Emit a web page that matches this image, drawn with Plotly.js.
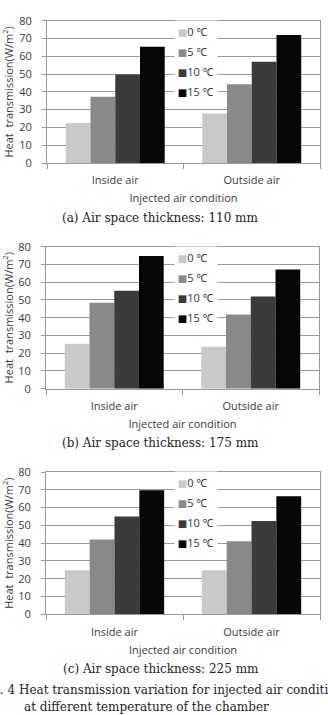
<!DOCTYPE html>
<html><head><meta charset="utf-8">
<script src="https://cdn.plot.ly/plotly-3.0.1.min.js"></script>
<style>html,body{margin:0;padding:0;background:#fff;overflow:hidden}</style>
</head><body>
<div id="chart" style="width:328px;height:715px"></div>
<script>
// ---------------- data ----------------
const categories = ['Inside air', 'Outside air'];
const seriesNames = ['0 ℃', '5 ℃', '10 ℃', '15 ℃'];
const seriesColors = ['#c9c9c9', '#898989', '#3b3b3b', '#060606'];

// (a) Air space thickness 110 mm
const a_0C  = [22.5, 27.8];
const a_5C  = [37.2, 44.3];
const a_10C = [49.8, 56.9];
const a_15C = [65.4, 71.9];
// (b) Air space thickness 175 mm
const b_0C  = [25.3, 23.6];
const b_5C  = [48.4, 41.8];
const b_10C = [55.2, 52.0];
const b_15C = [74.7, 67.2];
// (c) Air space thickness 225 mm
const c_0C  = [24.8, 24.8];
const c_5C  = [42.0, 41.0];
const c_10C = [55.0, 52.5];
const c_15C = [69.8, 66.4];

const panelCaptions = ['(a) Air space thickness: 110 mm', '(b) Air space thickness: 175 mm', '(c) Air space thickness: 225 mm'];
const yTitleText = 'Heat  transmission(W/m<sup>2</sup>)';
const xTitleText = 'Injected air condition';
const yTickVals = [0, 10, 20, 30, 40, 50, 60, 70, 80];
const figCaption1 = 'Fig. 4 Heat transmission variation for injected air conditions';
const figCaption2 = 'at different temperature of the chamber';

const panelData = [
  [a_0C, a_5C, a_10C, a_15C],
  [b_0C, b_5C, b_10C, b_15C],
  [c_0C, c_5C, c_10C, c_15C]
];

// ---------------- geometry (pixels) ----------------
const W = 328, H = 715;
const panels = [
  {left: 47, right: 320, top: 20.7, bottom: 163},
  {left: 46, right: 319, top: 246.7, bottom: 388.7},
  {left: 46, right: 320, top: 472, bottom: 614.3}
];
const captionY = [218, 443, 669];
const px = x => x / W;
const py = y => 1 - y / H;

const uiFont = {family: '"Open Sans", "Noto Sans", sans-serif', size: 11, color: '#3a3a3a'};
const serifFont = {family: '"DejaVu Serif", "Liberation Serif", serif', size: 12, color: '#222'};

const traces = [];
const layout = {
  width: W, height: H,
  margin: {l: 0, r: 0, t: 0, b: 0},
  paper_bgcolor: '#fff', plot_bgcolor: '#fff',
  showlegend: false,
  barmode: 'group', bargap: 0.275, bargroupgap: 0,
  font: uiFont,
  annotations: []
};

panels.forEach((p, i) => {
  const s = i === 0 ? '' : String(i + 1);
  panelData[i].forEach((vals, k) => {
    traces.push({
      type: 'bar', name: seriesNames[k], x: categories, y: vals,
      xaxis: 'x' + s, yaxis: 'y' + s,
      marker: {color: seriesColors[k], line: {width: 0}},
      hoverinfo: 'skip'
    });
  });
  layout['xaxis' + s] = {
    domain: [px(p.left), px(p.right)], anchor: 'y' + s,
    type: 'category', tickson: 'boundaries',
    ticks: 'outside', ticklen: 5, tickcolor: '#9a9a9a', tickwidth: 1,
    showline: true, linecolor: '#9a9a9a', linewidth: 1, mirror: true,
    showgrid: false, tickfont: uiFont, ticklabelstandoff: 7,
    title: {text: xTitleText, font: uiFont, standoff: 8},
    fixedrange: true
  };
  layout['yaxis' + s] = {
    domain: [py(p.bottom), py(p.top)], anchor: 'x' + s,
    range: [0, 80], tickvals: yTickVals,
    ticks: 'outside', ticklen: 4, tickcolor: '#9a9a9a',
    showline: true, linecolor: '#9a9a9a', linewidth: 1, mirror: true,
    showgrid: true, gridcolor: '#9a9a9a', gridwidth: 1, zeroline: false,
    tickfont: uiFont, ticklabelstandoff: 8,
    title: {text: yTitleText, font: uiFont, standoff: 5},
    fixedrange: true
  };
  // legend (drawn as text labels on a white box, like the Excel legend)
  seriesNames.forEach((nm, k) => {
    layout.annotations.push({
      xref: 'paper', yref: 'paper',
      x: px(174), y: py(p.top + 10 + 20 * k),
      xanchor: 'left', yanchor: 'middle',
      width: 42, height: 20, align: 'left', borderpad: 0,
      bgcolor: '#ffffff', showarrow: false,
      text: '\u00a0<span style="color:' + seriesColors[k] + ';font-size:10px;font-family:DejaVu Sans">■</span>' + nm,
      font: {family: uiFont.family, size: 11, color: '#333'}
    });
  });
  layout.annotations.push({
    xref: 'paper', yref: 'paper', x: px(160.5), y: py(captionY[i]),
    xanchor: 'center', yanchor: 'middle', showarrow: false,
    text: panelCaptions[i], font: serifFont
  });
});

layout.annotations.push({
  xref: 'paper', yref: 'paper', x: px(-22), y: py(690),
  xanchor: 'left', yanchor: 'middle', showarrow: false,
  text: figCaption1, font: serifFont
});
layout.annotations.push({
  xref: 'paper', yref: 'paper', x: px(22), y: py(707),
  xanchor: 'left', yanchor: 'middle', showarrow: false,
  text: figCaption2, font: serifFont
});

Plotly.newPlot('chart', traces, layout, {displayModeBar: false, staticPlot: true});
</script>
</body></html>
